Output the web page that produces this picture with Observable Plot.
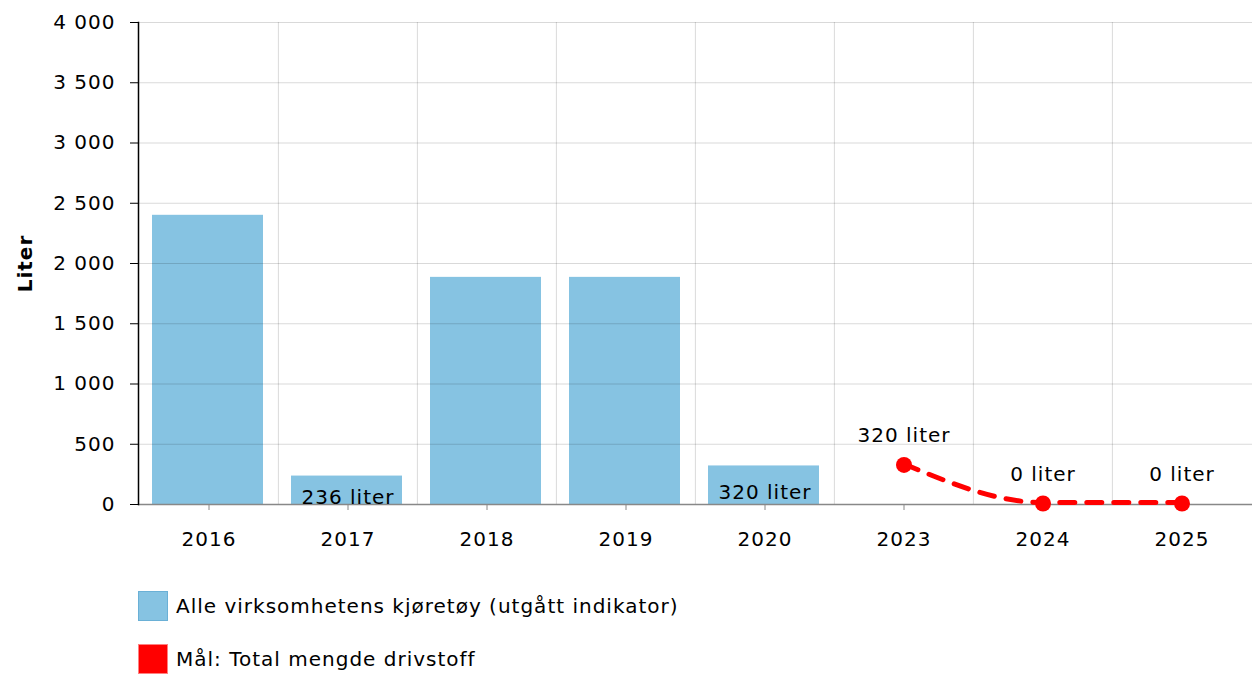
<!DOCTYPE html>
<html><head><meta charset="utf-8">
<script src="https://cdn.jsdelivr.net/npm/d3@7"></script>
<script src="https://cdn.jsdelivr.net/npm/@observablehq/plot@0.6"></script>
<style>
body{margin:0;background:#fff;font-family:"DejaVu Sans",Verdana,sans-serif;}
#legend{margin-left:138px;padding-top:21px}
.item{display:flex;align-items:center;height:30px;margin-bottom:23px;font-size:20px;letter-spacing:1px;color:#000}
.sw{width:30px;height:30px;box-sizing:border-box;margin-right:8px}
svg text{letter-spacing:1px}
</style></head><body><div id="chart"></div><div id="legend"></div>
<script>
const years = ["2016","2017","2018","2019","2020","2023","2024","2025"];
const barYears = ["2016","2017","2018","2019","2020"];
const barValues = [2400,236,1885,1885,320];
const barLabels = ["","236 liter","","","320 liter"];
const goalYears = ["2023","2024","2025"];
const goalValues = [320,0,0];
const goalLabels = ["320 liter","0 liter","0 liter"];
const yTicks = [0,500,1000,1500,2000,2500,3000,3500,4000];
const seriesNames = ["Alle virksomhetens kjøretøy (utgått indikator)","Mål: Total mengde drivstoff"];
const seriesColors = ["#86c3e2","#ff0000"];
const seriesBorders = ["#6ab0d6","#ff8080"];

const bars = barYears.map((x,i)=>({x, y:barValues[i], label:barLabels[i]}));
const goals = goalYears.map((x,i)=>({x, y:goalValues[i], label:goalLabels[i]}));

const W = 1252, ML = 138, MR = 0;
const bw = (W-ML-MR)/years.length;

const chart = Plot.plot({
  width: W, height: 570,
  marginTop: 22, marginBottom: 66, marginLeft: ML, marginRight: MR,
  style: {fontFamily: '"DejaVu Sans", Verdana, sans-serif', fontSize: "20px", overflow: "visible"},
  x: {type: "band", domain: years, padding: 0},
  y: {domain: [0, 4000]},
  marks: [
    Plot.barY(bars, {x: "x", y: "y", fill: seriesColors[0], insetLeft: 13, insetRight: 15}),
    Plot.ruleY(yTicks.slice(1), {stroke: "#000", strokeOpacity: 0.15}),
    Plot.ruleX(years.slice(1), {x: d => d, dx: -bw/2, stroke: "#000", strokeOpacity: 0.15}),
    Plot.ruleY([0], {stroke: "#888", strokeWidth: 1.5}),
    Plot.axisY({ticks: yTicks, tickFormat: d => d3.format(",")(d).replace(/,/g, " "), tickSize: 8, tickPadding: 15, stroke: "#000", fill: "#000", fontSize: 20, label: null}),
    Plot.axisX({tickSize: 6, tickPadding: 21, stroke: "#888", fill: "#000", fontSize: 20, label: null}),
    Plot.frame({anchor: "left", stroke: "#000", strokeWidth: 1.5}),
    Plot.text(["Liter"], {frameAnchor: "left", textAnchor: "middle", dx: -113, rotate: -90, fontWeight: "bold", fontSize: 20, fill: "#000"}),
    Plot.text(bars.filter(d => d.label), {x: "x", y: d => d.y/2, dy: 7, text: "label", fontSize: 20, fill: "#000"}),
    Plot.line(goals, {x: "x", y: "y", dy: -2, stroke: seriesColors[1], strokeWidth: 5, strokeDasharray: "15,12", curve: "monotone-x"}),
    Plot.dot(goals, {x: "x", y: "y", dy: -1, r: 8, fill: seriesColors[1]}),
    Plot.text(goals, {x: "x", y: "y", dy: -30, text: "label", fontSize: 20, fill: "#000"})
  ]
});
document.getElementById("chart").appendChild(chart);

const legend = document.getElementById("legend");
seriesNames.forEach((n,i)=>{
  const it = document.createElement("div"); it.className = "item";
  const sw = document.createElement("div"); sw.className = "sw";
  sw.style.background = seriesColors[i]; sw.style.border = "1px solid " + seriesBorders[i];
  const t = document.createElement("span"); t.textContent = n;
  it.appendChild(sw); it.appendChild(t); legend.appendChild(it);
});
</script></body></html>
